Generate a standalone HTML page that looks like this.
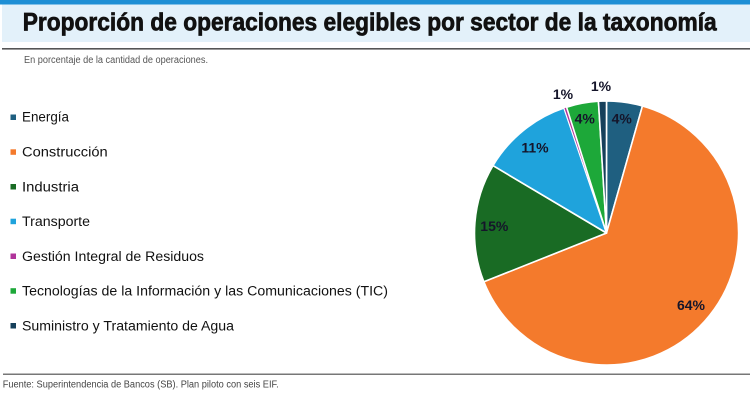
<!DOCTYPE html>
<html>
<head>
<meta charset="utf-8">
<style>
  html,body{margin:0;padding:0;background:#fff;}
  body{width:750px;height:401px;overflow:hidden;}
  svg{display:block;}
  text{font-family:"Liberation Sans", Arial, sans-serif;}
</style>
</head>
<body>
<svg width="750" height="401" viewBox="0 0 750 401" xmlns="http://www.w3.org/2000/svg">
  <!-- header -->
  <rect x="0" y="0" width="750" height="4.5" fill="#1E8FD5"/>
  <rect x="2" y="4.5" width="748" height="37.5" fill="#E3F1FA"/>
  <text x="22.7" y="30.7" font-size="25" font-weight="bold" fill="#111" stroke="#111" stroke-width="0.7" textLength="694" lengthAdjust="spacingAndGlyphs">Proporción de operaciones elegibles por sector de la taxonomía</text>
  <rect x="2" y="48" width="748" height="1.6" fill="#555"/>
  <text x="24" y="63" font-size="10" fill="#555" textLength="184" lengthAdjust="spacingAndGlyphs">En porcentaje de la cantidad de operaciones.</text>

  <!-- legend -->
  <g font-size="13.5" fill="#111">
    <rect x="10.5" y="114.5" width="5.5" height="5.5" fill="#1F5F80"/>
    <text x="22" y="121.7" textLength="47" lengthAdjust="spacingAndGlyphs">Energía</text>
    <rect x="10.5" y="149.3" width="5.5" height="5.5" fill="#F47A2C"/>
    <text x="22" y="156.6" textLength="85.7" lengthAdjust="spacingAndGlyphs">Construcción</text>
    <rect x="10.5" y="184" width="5.5" height="5.5" fill="#196B24"/>
    <text x="22" y="191.3" textLength="57" lengthAdjust="spacingAndGlyphs">Industria</text>
    <rect x="10.5" y="218.7" width="5.5" height="5.5" fill="#1FA3DC"/>
    <text x="22" y="226" textLength="68" lengthAdjust="spacingAndGlyphs">Transporte</text>
    <rect x="10.5" y="253.5" width="5.5" height="5.5" fill="#B0339A"/>
    <text x="22" y="260.8" textLength="182" lengthAdjust="spacingAndGlyphs">Gestión Integral de Residuos</text>
    <rect x="10.5" y="288.2" width="5.5" height="5.5" fill="#1DA839"/>
    <text x="22" y="295.6" textLength="366" lengthAdjust="spacingAndGlyphs">Tecnologías de la Información y las Comunicaciones (TIC)</text>
    <rect x="10.5" y="323" width="5.5" height="5.5" fill="#16405B"/>
    <text x="22" y="330.3" textLength="212" lengthAdjust="spacingAndGlyphs">Suministro y Tratamiento de Agua</text>
  </g>

  <!-- pie -->
  <g stroke="#fff" stroke-width="1.6" stroke-linejoin="round">
    <path d="M606.5,233 L606.5,101 A132,132 0 0 1 642.44,105.99 Z" fill="#1F5F80"/>
    <path d="M606.5,233 L642.44,105.99 A132,132 0 1 1 483.86,281.80 Z" fill="#F47A2C"/>
    <path d="M606.5,233 L483.86,281.80 A132,132 0 0 1 492.99,165.61 Z" fill="#196B24"/>
    <path d="M606.5,233 L492.99,165.61 A132,132 0 0 1 563.96,108.05 Z" fill="#1FA3DC"/>
    <path d="M606.5,233 L563.96,108.05 A132,132 0 0 1 566.58,107.18 Z" fill="#B0339A" stroke-width="0.8"/>
    <path d="M606.5,233 L566.58,107.18 A132,132 0 0 1 598.44,101.25 Z" fill="#1DA839"/>
    <path d="M606.5,233 L598.44,101.25 A132,132 0 0 1 606.5,101 Z" fill="#16405B"/>
  </g>

  <!-- labels -->
  <g font-size="14" font-weight="bold" fill="#15152a" text-anchor="middle">
    <text x="621.7" y="123.3">4%</text>
    <text x="691" y="310">64%</text>
    <text x="494.3" y="231">15%</text>
    <text x="535" y="152.7">11%</text>
    <text x="563" y="99">1%</text>
    <text x="584.7" y="123.3">4%</text>
    <text x="601" y="91">1%</text>
  </g>

  <!-- footer -->
  <rect x="3" y="373.5" width="747" height="1.5" fill="#777"/>
  <text x="2.7" y="387.3" font-size="10" fill="#444" textLength="276" lengthAdjust="spacingAndGlyphs">Fuente: Superintendencia de Bancos (SB). Plan piloto con seis EIF.</text>
</svg>
</body>
</html>
